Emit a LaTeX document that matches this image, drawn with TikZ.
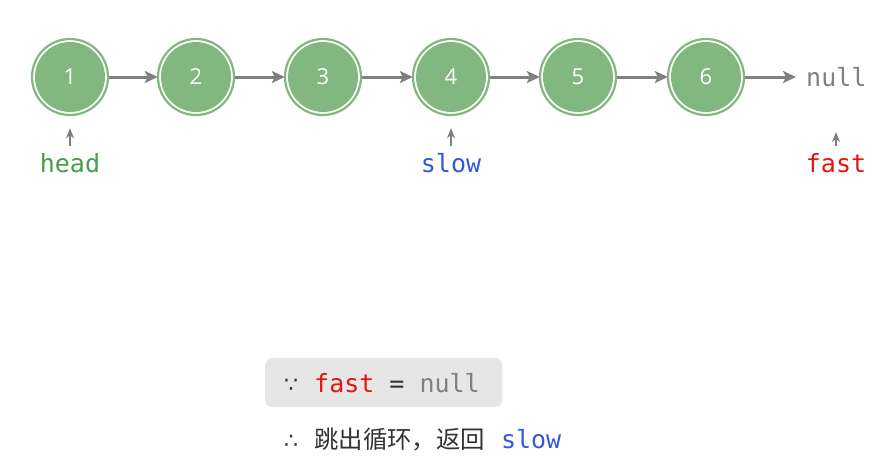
\documentclass[tikz,border=0pt]{standalone}
\usepackage{fontspec}
\setmainfont{Open Sans}
\setmonofont{DejaVu Sans Mono}
\newfontfamily\cjkf{Noto Sans CJK SC}
\newfontfamily\symf{DejaVu Sans}
\usetikzlibrary{arrows.meta}
\definecolor{ngreen}{HTML}{82B77F}
\definecolor{hgreen}{HTML}{4C9A4C}
\definecolor{sblue}{HTML}{3557D9}
\definecolor{fred}{HTML}{E3170D}
\definecolor{ngray}{HTML}{808080}
\definecolor{agray}{HTML}{808080}
\definecolor{boxgray}{HTML}{E6E6E6}
\definecolor{txt}{HTML}{333333}
\tikzset{
  circ/.style={circle, fill=ngreen, minimum size=70pt, inner sep=0pt, text=white, font=\fontsize{22pt}{26pt}\selectfont},
  ring/.style={draw=ngreen, line width=2.2pt},
  arr/.style={draw=agray, line width=3pt, -{Stealth[length=13pt,width=12pt,inset=3pt]}},
  ptr/.style={draw=agray, line width=1.5pt, -{Stealth[length=10pt,width=8pt,inset=3pt]}},
  mono/.style={font=\ttfamily\fontsize{25pt}{29pt}\selectfont, inner sep=0pt},
}
\begin{document}
\begin{tikzpicture}[x=1pt,y=-1pt]
\useasboundingbox (0,0) rectangle (890,464);
\foreach \i/\x in {1/70,2/196,3/323,4/451,5/578,6/706}{
  \node[circ] (n\i) at (\x,77) {\i};
  \draw[ring] (n\i.center) circle (38pt);
}
\node[mono, text=ngray, anchor=west] (nl) at (806,77) {null};
\foreach \a/\b in {1/2,2/3,3/4,4/5,5/6}{
  \draw[arr, shorten <=4pt, shorten >=3pt] (n\a) -- (n\b);
}
\draw[arr, shorten <=4pt, shorten >=10pt] (n6) -- (nl);
\node[mono, text=hgreen] (head) at (70,163) {head};
\node[mono, text=sblue] (slow) at (451,163) {slow};
\node[mono, text=fred] (fast) at (836,163) {fast};
\coordinate (nlb) at (836,116);
\draw[ptr, shorten >=16pt] ([yshift=7pt]head.north) -- (n1.south);
\draw[ptr, shorten >=16pt] ([yshift=7pt]slow.north) -- (n4.south);
\draw[ptr, shorten >=16pt] ([yshift=7pt]fast.north) -- (nlb);
\node[fill=boxgray, rounded corners=7pt, minimum width=237pt, minimum height=49pt, anchor=north west, inner sep=0pt] (box) at (265,358) {};
\node[anchor=west, inner sep=0pt, text=txt] (l1) at (284,383) {{\symf\fontsize{22pt}{26pt}\selectfont ∵}\hspace{16pt}{\ttfamily\fontsize{25pt}{29pt}\selectfont\textcolor{fred}{fast} \textcolor{txt}{=} \textcolor{ngray}{null}}};
\node[anchor=west, inner sep=0pt, text=txt] (l2) at (284,440) {{\symf\fontsize{22pt}{26pt}\selectfont ∴}\hspace{16pt}{\cjkf\fontsize{24.4pt}{28pt}\selectfont 跳出循环，返回}\hspace{16pt}{\ttfamily\fontsize{25pt}{29pt}\selectfont\textcolor{sblue}{slow}}};
\end{tikzpicture}
\end{document}
